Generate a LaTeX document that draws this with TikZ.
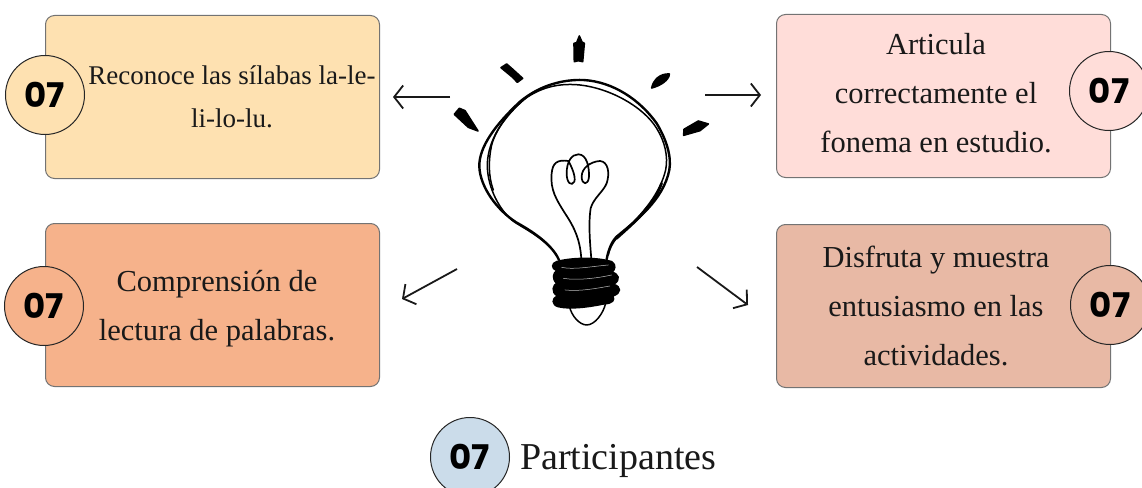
\documentclass[tikz,border=0pt]{standalone}
\usepackage{fontspec}
\setmainfont{Liberation Serif}
\newfontfamily\numfont{Poppins}
\usetikzlibrary{arrows.meta}
\definecolor{cA}{HTML}{FEE1B1}
\definecolor{cB}{HTML}{FFDDD9}
\definecolor{cC}{HTML}{F6B28B}
\definecolor{cD}{HTML}{E8B9A5}
\definecolor{cE}{HTML}{CBDCEA}
\tikzset{
 card/.style={draw=black!55,line width=1pt,rounded corners=9pt,minimum width=334pt,minimum height=163pt,anchor=north west},
 cardtext/.style={align=center,font=\fontsize{30.5}{49}\selectfont,text=black!90},
 cardsmall/.style={align=center,font=\fontsize{27}{43}\selectfont,text=black!90},
 badge/.style={circle,draw=black!85,line width=1pt,minimum size=79pt,inner sep=0pt,font=\numfont\bfseries\fontsize{34}{34}\selectfont},
 pointer/.style={draw=black!90,line width=1.8pt,-{Straight Barb[length=9pt,width=23pt,line width=1.8pt]}},
 ink/.style={draw=black,line width=1.5pt,line cap=round,line join=round},
 inkfill/.style={fill=black,draw=black,line width=1.6pt,line join=round},
}
\begin{document}
\begin{tikzpicture}[x=1pt,y=-1pt]
\useasboundingbox (0,0) rectangle (1142,487);
\clip (0,0) rectangle (1142,487);
\fill[white] (0,0) rectangle (1142,487);
% cards
\node[card,fill=cA] (ta) at (45,15) {};
\node[card,fill=cB] (tb) at (776,14) {};
\node[card,fill=cC] (tc) at (45,223) {};
\node[card,fill=cD] (td) at (776,224) {};
% texts
\node[cardsmall] (xa) at (232,97) {Reconoce las sílabas la-le-\\li-lo-lu.};
\node[cardtext] (xb) at (936,93) {Articula\\correctamente el\\fonema en estudio.};
\node[cardtext] (xc) at (217,309) {Comprensión de\\lectura de palabras.};
\node[cardtext] (xd) at (936,306) {Disfruta y muestra\\entusiasmo en las\\actividades.};
% badges
\node[badge,fill=cA] (ba) at (45,95) {07};
\node[badge,fill=cB] (bb) at (1109,91) {07};
\node[badge,fill=cC] (bc) at (44,306) {07};
\node[badge,fill=cD] (bd) at (1110,305) {07};
\node[badge,fill=cE] (be) at (470,457) {07};
\node[anchor=west,font=\fontsize{38}{38}\selectfont,text=black!90,inner sep=0pt] (pt) at (520,461) {Participantes};
% arrows
\coordinate (a1) at (450,97); \coordinate (a2) at (393,97);
\coordinate (b1) at (705,95); \coordinate (b2) at (761,95);
\coordinate (c1) at (457,269); \coordinate (c2) at (402,299);
\coordinate (d1) at (697,267); \coordinate (d2) at (748,305);
\draw[pointer] (a1) -- (a2);
\draw[pointer] (b1) -- (b2);
\draw[pointer] (c1) -- (c2);
\draw[pointer] (d1) -- (d2);
% bulb, in 3x zoomed coordinates
\begin{scope}[shift={(440,20)},x=0.3333pt,y=-0.3333pt]
 % rays
 \fill[inkfill] (403,125) -- (402,70) -- (410,68) -- (418,48) -- (426,66) -- (433,70) -- (428,125) -- (415,122) -- cycle;
 \fill[inkfill] (183,143) -- (200,132) -- (215,145) -- (248,175) -- (232,187) -- (218,172) -- cycle;
 \fill[inkfill] (43,283) -- (58,265) -- (75,272) -- (114,333) -- (85,322) -- cycle;
 \fill[inkfill] (635,204) .. controls (640,180) and (660,160) .. (688,162) .. controls (688,180) and (660,198) .. (635,204) -- cycle;
 \fill[inkfill] (731,346) -- (732,328) -- (775,303) -- (805,312) -- (780,332) -- cycle;
 % glass outline strokes
 \draw[ink,line width=2.4pt] (357,720) .. controls (335,670) and (270,630) .. (230,608) .. controls (170,570) and (120,500) .. (118,440) .. controls (116,380) and (170,310) .. (240,245) .. controls (300,195) and (370,178) .. (430,180) .. controls (520,185) and (600,240) .. (650,310) .. controls (680,360) and (695,410) .. (688,450) .. controls (670,540) and (590,600) .. (530,650) .. controls (515,665) and (505,690) .. (500,718);
 \draw[ink] (350,705) .. controls (310,650) and (240,620) .. (215,600) .. controls (170,560) and (140,490) .. (142,430) .. controls (145,360) and (190,290) .. (250,240) .. controls (310,195) and (370,190) .. (420,195) .. controls (510,205) and (610,260) .. (650,325) .. controls (675,365) and (685,410) .. (677,450) .. controls (660,520) and (610,580) .. (550,635) .. controls (525,655) and (510,680) .. (505,705);
 \draw[ink] (160,510) .. controls (145,470) and (145,420) .. (155,375) .. controls (170,320) and (215,270) .. (260,232);
 \draw[ink,line width=2.6pt] (530,655) .. controls (580,610) and (640,560) .. (665,490);
 % filament
 \draw[ink,line width=1.7pt] (424,716) .. controls (420,660) and (405,625) .. (375,580) .. controls (350,540) and (330,510) .. (335,460) .. controls (338,430) and (350,418) .. (385,423) .. controls (395,440) and (408,470) .. (403,485) .. controls (395,500) and (380,490) .. (380,460) .. controls (380,425) and (395,403) .. (415,403) .. controls (440,403) and (448,440) .. (447,470) .. controls (445,498) and (425,495) .. (425,470) .. controls (425,445) and (450,425) .. (480,423) .. controls (505,425) and (510,460) .. (500,490) .. controls (490,515) and (460,535) .. (452,565) .. controls (445,610) and (450,670) .. (454,716);
 % cap loop
 \draw[ink] (388,858) .. controls (395,890) and (420,915) .. (440,915) .. controls (465,915) and (490,880) .. (497,850);
 % screw base
 \fill[inkfill] (350,725) .. controls (400,712) and (470,712) .. (515,725) .. controls (530,735) and (525,750) .. (515,757) .. controls (535,760) and (545,780) .. (520,793) .. controls (545,800) and (545,820) .. (518,828) .. controls (525,840) and (520,850) .. (490,852) .. controls (440,862) and (390,868) .. (355,860) .. controls (335,855) and (335,835) .. (352,828) .. controls (332,815) and (340,795) .. (350,790) .. controls (335,775) and (340,760) .. (350,752) .. controls (333,745) and (335,730) .. (350,725) -- cycle;
 \draw[white,line width=0.5pt,line cap=round,opacity=.75] (365,742) .. controls (400,750) and (450,740) .. (505,735);
 \draw[white,line width=0.5pt,line cap=round,opacity=.75] (370,775) .. controls (410,782) and (470,775) .. (515,765);
 \draw[white,line width=0.5pt,line cap=round,opacity=.75] (375,810) .. controls (420,815) and (470,805) .. (510,798);
\end{scope}
\end{tikzpicture}
\end{document}
